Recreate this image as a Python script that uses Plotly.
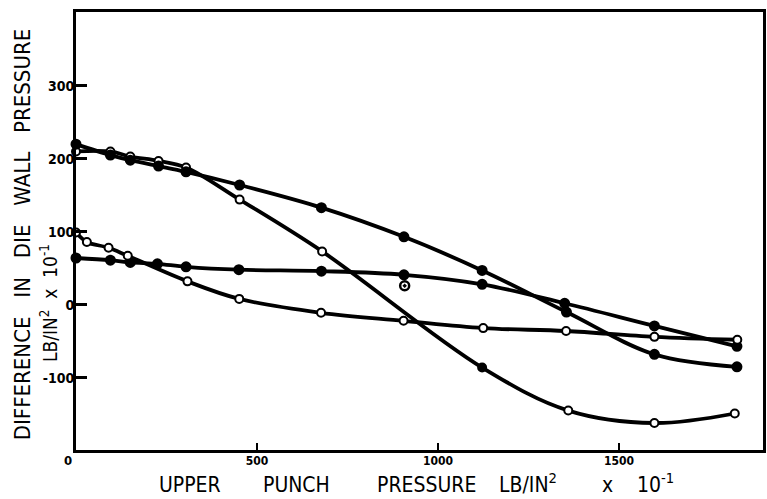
import plotly.graph_objects as go

# ---- data ----
a_x = [0, 95, 150, 228, 304, 452, 680, 1122, 1360, 1598, 1820]
a_y = [210, 210, 203, 197, 188, 144, 73, -86, -145, -162, -149]

b_x = [0, 95, 150, 228, 304, 452, 678, 906, 1122, 1355, 1598, 1826]
b_y = [220, 205, 198, 190, 182, 164, 133, 93, 47, -10, -68, -85]

c_x = [0, 95, 150, 225, 304, 450, 678, 906, 1122, 1350, 1598, 1826]
c_y = [64, 61, 58, 56, 52, 48, 46, 41, 28, 2, -29, -57]

d_x = [0, 30, 90, 143, 308, 451, 677, 905, 1125, 1354, 1598, 1827]
d_y = [99, 86, 78, 67, 32, 8, -11, -22, -32, -36, -44, -48]

stray_x = [908]
stray_y = [26]

x_ticks = [500, 1000, 1500]
y_ticks = [300, 200, 100, 0, -100]
y_ticklabels = ["300", "200", "100", "0", "-100"]

FONT = "DejaVu Sans Condensed, DejaVu Sans, sans-serif"

fig = go.Figure()

def add_series(xs, ys, filled, colors=None):
    fig.add_trace(go.Scatter(
        x=xs, y=ys, mode="lines+markers",
        line=dict(color="black", width=3.8, shape="spline", smoothing=1.0),
        marker=dict(
            symbol="circle",
            size=9 if filled else 8,
            color=colors if colors else ("black" if filled else "white"),
            line=dict(color="black", width=2),
        ),
        cliponaxis=False, showlegend=False, hoverinfo="x+y",
    ))

a_colors = ["white", "white", "white", "white", "white", "white", "white",
            "black", "white", "white", "white"]
add_series(a_x, a_y, False, a_colors)
add_series(b_x, b_y, True)
add_series(c_x, c_y, True)
add_series(d_x, d_y, False)

fig.add_trace(go.Scatter(
    x=stray_x, y=stray_y, mode="markers",
    marker=dict(symbol="circle-open-dot", size=9, color="black", line=dict(color="black", width=2.5)),
    showlegend=False, cliponaxis=False,
))

L, R, T, B = 76, 1, 12, 49
W, H = 767, 499
pw = W - L - R
ph = H - T - B

def px(x):
    return (x - L) / pw

def py(y):
    return (H - B - y) / ph

annotations = []
# x title words (bottom-anchored so that baselines line up)
words = [("UPPER", 158), ("PUNCH", 263), ("PRESSURE", 377), ("LB/IN<sup>2</sup>", 500),
         ("x", 603), ("10<sup>-1</sup>", 638)]
for txt, xp in words:
    annotations.append(dict(
        text=txt, x=px(xp), y=py(498), xref="paper", yref="paper",
        xanchor="left", yanchor="bottom", showarrow=False, borderpad=0,
        font=dict(family=FONT, size=21, color="black"),
    ))

nb = "\u00a0"
annotations.append(dict(
    text=f"DIFFERENCE{nb*3}IN{nb*3}DIE{nb*3}WALL{nb*3}PRESSURE",
    x=px(22), y=py(235), xref="paper", yref="paper",
    xanchor="center", yanchor="middle", textangle=-90, showarrow=False,
    font=dict(family=FONT, size=22, color="black"),
))
annotations.append(dict(
    text=f"LB/IN<sup>2</sup>{nb*2}x{nb*2}10<sup>-1</sup>",
    x=px(49), y=py(303), xref="paper", yref="paper",
    xanchor="center", yanchor="middle", textangle=-90, showarrow=False,
    font=dict(family=FONT, size=19, color="black"),
))
annotations.append(dict(
    text="0", x=px(68), y=py(460), xref="paper", yref="paper",
    xanchor="center", yanchor="middle", showarrow=False,
    font=dict(family=FONT, size=13, color="black", weight="bold"),
))

fig.update_layout(
    width=W, height=H,
    margin=dict(l=L, r=R, t=T, b=B),
    paper_bgcolor="white", plot_bgcolor="white",
    annotations=annotations,
    font=dict(family=FONT, color="black"),
)

fig.update_xaxes(
    range=[0, 1898], showgrid=False, zeroline=False,
    showline=True, linecolor="black", linewidth=3, mirror=True,
    ticks="inside", ticklen=7, tickwidth=2, tickcolor="black",
    tickvals=x_ticks, ticktext=[str(v) for v in x_ticks],
    tickfont=dict(family=FONT, size=12, color="black", weight="bold"),
    ticklabelstandoff=-2,
)
fig.update_yaxes(
    range=[-199, 401], showgrid=False, zeroline=False,
    showline=True, linecolor="black", linewidth=3, mirror=True,
    ticks="inside", ticklen=11, tickwidth=3, tickcolor="black",
    tickvals=y_ticks, ticktext=y_ticklabels,
    tickfont=dict(family=FONT, size=14, color="black", weight="bold"),
    ticklabelstandoff=-4,
)

fig.write_html("out.html")
